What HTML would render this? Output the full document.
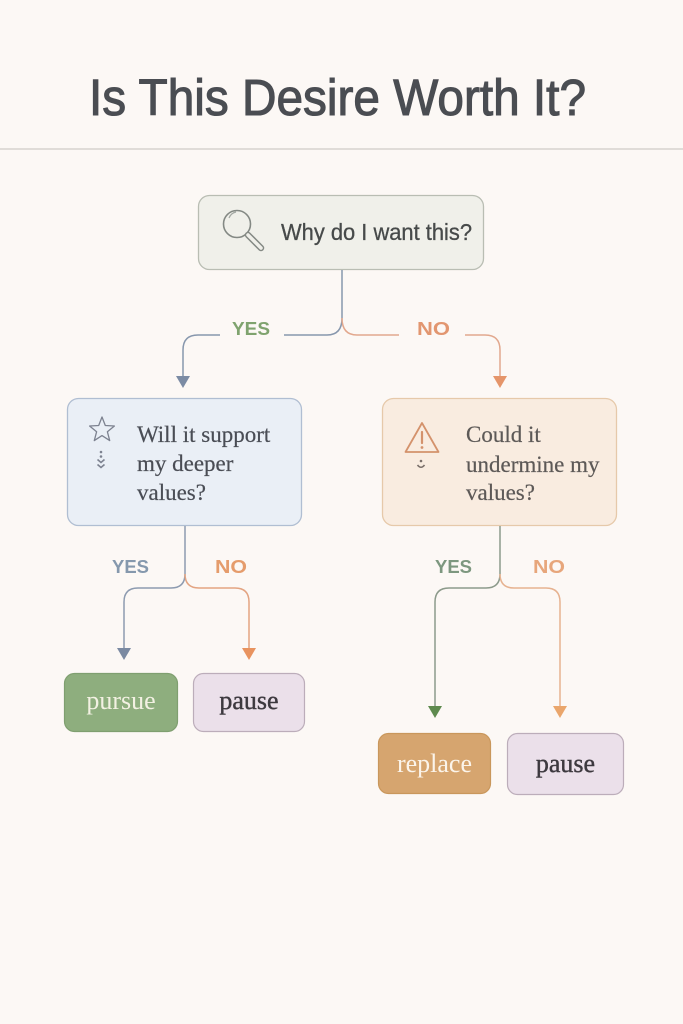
<!DOCTYPE html>
<html>
<head>
<meta charset="utf-8">
<style>
  html,body{margin:0;padding:0;background:#fcf8f5;}
  body{width:683px;height:1024px;overflow:hidden;}
  svg{display:block;}
</style>
</head>
<body>
<svg width="683" height="1024" viewBox="0 0 683 1024" xmlns="http://www.w3.org/2000/svg">
  <rect x="0" y="0" width="683" height="1024" fill="#fcf8f5"/>

  <!-- Title -->
  <text x="89" y="115" font-family="'Liberation Sans', sans-serif" font-size="51" fill="#4a4d52" textLength="497" lengthAdjust="spacingAndGlyphs" stroke="#4a4d52" stroke-width="1.1">Is This Desire Worth It?</text>
  <rect x="0" y="148" width="683" height="2" fill="#e0dcd8"/>

  <!-- Top box -->
  <rect x="198.5" y="195.5" width="285" height="74" rx="11" fill="#f0f0ea" stroke="#b9bdb3" stroke-width="1.3"/>
  <!-- magnifier -->
  <circle cx="237" cy="224" r="13.5" fill="none" stroke="#848984" stroke-width="1.6"/>
  <path d="M229 218 Q231 213 236 212" fill="none" stroke="#a3a8a3" stroke-width="1.2"/>
  <line x1="248" y1="235" x2="261" y2="248" stroke="#848984" stroke-width="6.5" stroke-linecap="round"/>
  <line x1="248" y1="235" x2="261" y2="248" stroke="#f0f0ea" stroke-width="3.5" stroke-linecap="round"/>
  <text x="281" y="240" font-family="'Liberation Sans', sans-serif" font-size="23" fill="#474a4a" stroke="#474a4a" stroke-width="0.3" textLength="191" lengthAdjust="spacingAndGlyphs">Why do I want this?</text>

  <!-- Top connectors -->
  <path d="M342 270 V318 Q342 335 327 335 H284" fill="none" stroke="#8797ad" stroke-width="1.5"/>
  <path d="M220 335 H198 Q183 335 183 350 V378" fill="none" stroke="#8797ad" stroke-width="1.5"/>
  <polygon points="176,376 190,376 183,388" fill="#7b8ba4"/>
  <text x="232" y="335" font-family="'Liberation Sans', sans-serif" font-weight="bold" font-size="18.5" fill="#7fa36e" textLength="38" lengthAdjust="spacingAndGlyphs">YES</text>

  <path d="M342 318 Q342 335 357 335 H399" fill="none" stroke="#e2a88e" stroke-width="1.5"/>
  <path d="M465 335 H485 Q500 335 500 350 V378" fill="none" stroke="#e2a88e" stroke-width="1.5"/>
  <polygon points="493,376 507,376 500,388" fill="#e5956a"/>
  <text x="417" y="335" font-family="'Liberation Sans', sans-serif" font-weight="bold" font-size="18.5" fill="#e29670" textLength="33" lengthAdjust="spacingAndGlyphs">NO</text>

  <!-- Left middle box -->
  <rect x="67.5" y="398.5" width="234" height="127" rx="11" fill="#eaeff6" stroke="#b0bed2" stroke-width="1.3"/>
  <polygon points="102,417 105.3,425.5 114.4,426 107.4,431.8 109.7,440.6 102,435.6 94.3,440.6 96.6,431.8 89.6,426 98.7,425.5" fill="none" stroke="#7d8290" stroke-width="1.3" stroke-linejoin="round"/>
  <circle cx="101" cy="452" r="1.3" fill="#7d8290"/>
  <circle cx="101" cy="456.5" r="1.3" fill="#7d8290"/>
  <path d="M97.5 459.5 L101 462.5 L104.5 459.5 M97.5 464.5 L101 467.5 L104.5 464.5" fill="none" stroke="#7d8290" stroke-width="1.6"/>
  <text font-family="'Liberation Serif', serif" font-size="23" fill="#4a4d55" stroke="#4a4d55" stroke-width="0.2">
    <tspan x="137" y="442">Will it support</tspan>
    <tspan x="137" y="471">my deeper</tspan>
    <tspan x="137" y="500">values?</tspan>
  </text>

  <!-- Right middle box -->
  <rect x="382.5" y="398.5" width="234" height="127" rx="11" fill="#f9ece0" stroke="#e6c9aa" stroke-width="1.3"/>
  <path d="M422 423 L438.5 452 L405.5 452 Z" fill="none" stroke="#d4926c" stroke-width="1.8" stroke-linejoin="round"/>
  <line x1="422" y1="432" x2="422" y2="443" stroke="#d4926c" stroke-width="2.2" stroke-linecap="round"/>
  <circle cx="422" cy="447.5" r="1.4" fill="#d4926c"/>
  <circle cx="421" cy="461" r="1.3" fill="#7a6f6a"/>
  <path d="M417.5 465 Q421 469.5 424.5 465" fill="none" stroke="#7a6f6a" stroke-width="1.6"/>
  <text font-family="'Liberation Serif', serif" font-size="23" fill="#5d5957" stroke="#5d5957" stroke-width="0.2">
    <tspan x="466" y="442">Could it</tspan>
    <tspan x="466" y="472">undermine my</tspan>
    <tspan x="466" y="500">values?</tspan>
  </text>

  <!-- Left bottom connectors -->
  <path d="M185 526 V574 Q185 588 171 588 H138 Q124 588 124 602 V649" fill="none" stroke="#8d9bb0" stroke-width="1.5"/>
  <polygon points="117,648 131,648 124,660" fill="#7b8aa2"/>
  <path d="M185 574 Q185 588 199 588 H235 Q249 588 249 602 V649" fill="none" stroke="#e3a482" stroke-width="1.5"/>
  <polygon points="242,648 256,648 249,660" fill="#e8935f"/>
  <text x="112" y="573" font-family="'Liberation Sans', sans-serif" font-weight="bold" font-size="18.5" fill="#8598ad" textLength="37" lengthAdjust="spacingAndGlyphs">YES</text>
  <text x="215" y="573" font-family="'Liberation Sans', sans-serif" font-weight="bold" font-size="18.5" fill="#e59c6c" textLength="32" lengthAdjust="spacingAndGlyphs">NO</text>

  <!-- Right bottom connectors -->
  <path d="M500 526 V574 Q500 588 486 588 H449 Q435 588 435 602 V707" fill="none" stroke="#8c9a8b" stroke-width="1.5"/>
  <polygon points="428,706 442,706 435,718" fill="#5e8a4e"/>
  <path d="M500 574 Q500 588 514 588 H546 Q560 588 560 602 V707" fill="none" stroke="#e6b290" stroke-width="1.5"/>
  <polygon points="553,706 567,706 560,718" fill="#eaa66c"/>
  <text x="435" y="573" font-family="'Liberation Sans', sans-serif" font-weight="bold" font-size="18.5" fill="#7d977f" textLength="37" lengthAdjust="spacingAndGlyphs">YES</text>
  <text x="533" y="573" font-family="'Liberation Sans', sans-serif" font-weight="bold" font-size="18.5" fill="#e7a67b" textLength="32" lengthAdjust="spacingAndGlyphs">NO</text>

  <!-- Result buttons -->
  <rect x="64.5" y="673.5" width="113" height="58" rx="10" fill="#8eae7e" stroke="#7f9f70" stroke-width="1.2"/>
  <text x="121" y="709" text-anchor="middle" font-family="'Liberation Serif', serif" font-size="26" fill="#f3f1e3">pursue</text>

  <rect x="193.5" y="673.5" width="111" height="58" rx="10" fill="#ebe0ea" stroke="#bcadba" stroke-width="1.2"/>
  <text x="249" y="709" text-anchor="middle" font-family="'Liberation Serif', serif" font-size="26" fill="#3d393f" stroke="#3d393f" stroke-width="0.4">pause</text>

  <rect x="378.5" y="733.5" width="112" height="60" rx="10" fill="#d6a56f" stroke="#c9975c" stroke-width="1.2"/>
  <text x="434.5" y="772" text-anchor="middle" font-family="'Liberation Serif', serif" font-size="26" fill="#fbf4ea">replace</text>

  <rect x="507.5" y="733.5" width="116" height="61" rx="10" fill="#ebe0ea" stroke="#bcadba" stroke-width="1.2"/>
  <text x="565.5" y="772" text-anchor="middle" font-family="'Liberation Serif', serif" font-size="26" fill="#3d393f" stroke="#3d393f" stroke-width="0.4">pause</text>
</svg>
</body>
</html>
